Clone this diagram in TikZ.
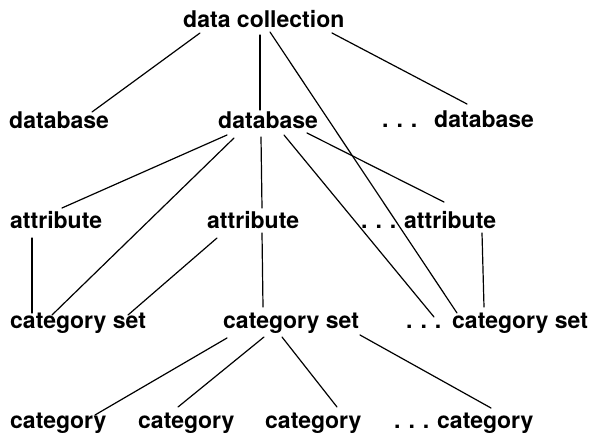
\documentclass[tikz,border=0pt]{standalone}
\usepackage{fontspec}
\setmainfont{TeX Gyre Heros}
\usetikzlibrary{calc}
\tikzset{
  lbl/.style={anchor=base west, inner sep=0pt, font=\fontsize{23}{27}\selectfont\bfseries},
  link/.style={line width=1.2pt, line cap=round}
}
\newcommand{\dotsgap}{.\hspace{8pt}.\hspace{8pt}.}
\begin{document}
\begin{tikzpicture}[x=1pt,y=-1pt]
\fill[white] (0,0) rectangle (594,435);
\useasboundingbox (0,0) rectangle (594,435);
% nodes
\node[lbl] (dc) at (183,28) {data collection};
\node[lbl] (db1) at (9,129) {database};
\node[lbl] (db2) at (218,129) {database};
\node[lbl] (db3d) at (382,128) {\dotsgap};
\node[lbl] (db3) at (434,128) {database};
\node[lbl] (at1) at (10,229) {attribute};
\node[lbl] (at2) at (207,229) {attribute};
\node[lbl] (at3d) at (361,229) {\dotsgap};
\node[lbl] (at3) at (404,229) {attribute};
\node[lbl] (cs1) at (10,329) {category set};
\node[lbl] (cs2) at (223,329) {category set};
\node[lbl] (cs3d) at (406,329) {\dotsgap};
\node[lbl] (cs3) at (452,329) {category set};
\node[lbl] (c1) at (10,428) {category};
\node[lbl] (c2) at (138,428) {category};
\node[lbl] (c3) at (265,428) {category};
\node[lbl] (c4d) at (394,428) {\dotsgap};
\node[lbl] (c4) at (437,428) {category};
% connectors
\draw[link] ($(dc.base west)+(17,5)$) -- ($(db1.base west)+(83,-17)$);
\draw[link] ($(dc.base west)+(77,7)$) -- ($(db2.base west)+(42,-19)$);
\draw[link] ($(dc.base west)+(87,4)$) -- ($(cs3.base west)+(5,-16)$);
\draw[link] ($(dc.base west)+(149,5)$) -- ($(db3.base west)+(33,-24)$);
\draw[link] ($(db2.base west)+(9,6)$) -- ($(at1.base west)+(52,-21)$);
\draw[link] ($(db2.base west)+(16,9)$) -- ($(cs1.base west)+(42,-14)$);
\draw[link] ($(db2.base west)+(43,8)$) -- ($(at2.base west)+(55,-21)$);
\draw[link] ($(db2.base west)+(66,6)$) -- ($(cs3d.base west)+(28,-12)$);
\draw[link] ($(db2.base west)+(89,4)$) -- ($(at3.base west)+(40,-27)$);
\draw[link] ($(at1.base west)+(22,9)$) -- ($(cs1.base west)+(22,-16)$);
\draw[link] ($(at2.base west)+(10,9)$) -- ($(cs1.base west)+(118,-14)$);
\draw[link] ($(at2.base west)+(55,4)$) -- ($(cs2.base west)+(40,-22)$);
\draw[link] ($(at3.base west)+(78,4)$) -- ($(cs3.base west)+(32,-22)$);
\draw[link] ($(cs2.base west)+(4,9)$) -- ($(c1.base west)+(85,-13)$);
\draw[link] ($(cs2.base west)+(41,8)$) -- ($(c2.base west)+(40,-21)$);
\draw[link] ($(cs2.base west)+(59,8)$) -- ($(c3.base west)+(72,-21)$);
\draw[link] ($(cs2.base west)+(137,6)$) -- ($(c4.base west)+(54,-20)$);
\end{tikzpicture}
\end{document}
